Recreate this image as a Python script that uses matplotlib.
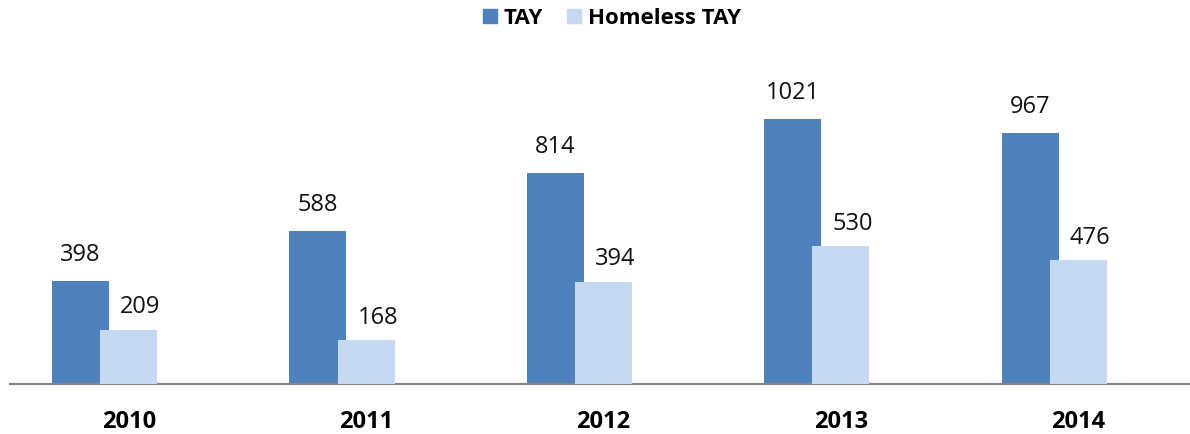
import matplotlib.pyplot as plt
from matplotlib.lines import Line2D
import numpy as np

# Data
years = ["2010", "2011", "2012", "2013", "2014"]
tay = [398, 588, 814, 1021, 967]
homeless_tay = [209, 168, 394, 530, 476]

plt.rcParams['font.family'] = ['Open Sans', 'DejaVu Sans']

fig = plt.figure(figsize=(11.9, 4.34), dpi=100)
# axes placed in pixel terms: left 10px, right past the edge, baseline at y=384
ax = fig.add_axes([10 / 1190, 50 / 434, 1187 / 1190, 324 / 434])

x = np.arange(len(years)) + 0.5
w = 0.24
c_tay = "#4F81BD"
c_home = "#C6D9F1"

b1 = ax.bar(x - 0.203, tay, width=w, color=c_tay, zorder=2)
b2 = ax.bar(x, homeless_tay, width=w, color=c_home, zorder=3)

# value labels; the light series sits a little to the right of its bar
for bars, vals, off in [(b1, tay, (0, 10)), (b2, homeless_tay, (8.5, 7.5))]:
    for bar, v in zip(bars, vals):
        ax.annotate(str(v), (bar.get_x() + bar.get_width() / 2, v),
                    xytext=off, textcoords="offset points",
                    ha="center", va="bottom", fontsize=17, color="#111111")

ax.set_xlim(0, len(years))
ax.set_ylim(0, 1248)
ax.set_xticks(x)
ax.set_xticklabels(years, fontsize=17, fontweight="bold")
ax.tick_params(axis="x", length=0, pad=19)
ax.set_yticks([])
for s in ["top", "right", "left"]:
    ax.spines[s].set_visible(False)
ax.spines["bottom"].set_color("#868686")
ax.spines["bottom"].set_linewidth(1.5)

handles = [Line2D([], [], marker="s", linestyle="none", markersize=10.5,
                  markerfacecolor=c_tay, markeredgecolor=c_tay),
           Line2D([], [], marker="s", linestyle="none", markersize=10.5,
                  markerfacecolor=c_home, markeredgecolor=c_home)]
fig.legend(handles, ["TAY", "Homeless TAY"], loc="center",
           bbox_to_anchor=(611 / 1190, 1 - 18 / 434), ncol=2, frameon=False,
           prop={"weight": "bold", "size": 16}, handletextpad=0.2,
           columnspacing=1.0, handlelength=0.8)

plt.savefig("out.png", dpi=100)
